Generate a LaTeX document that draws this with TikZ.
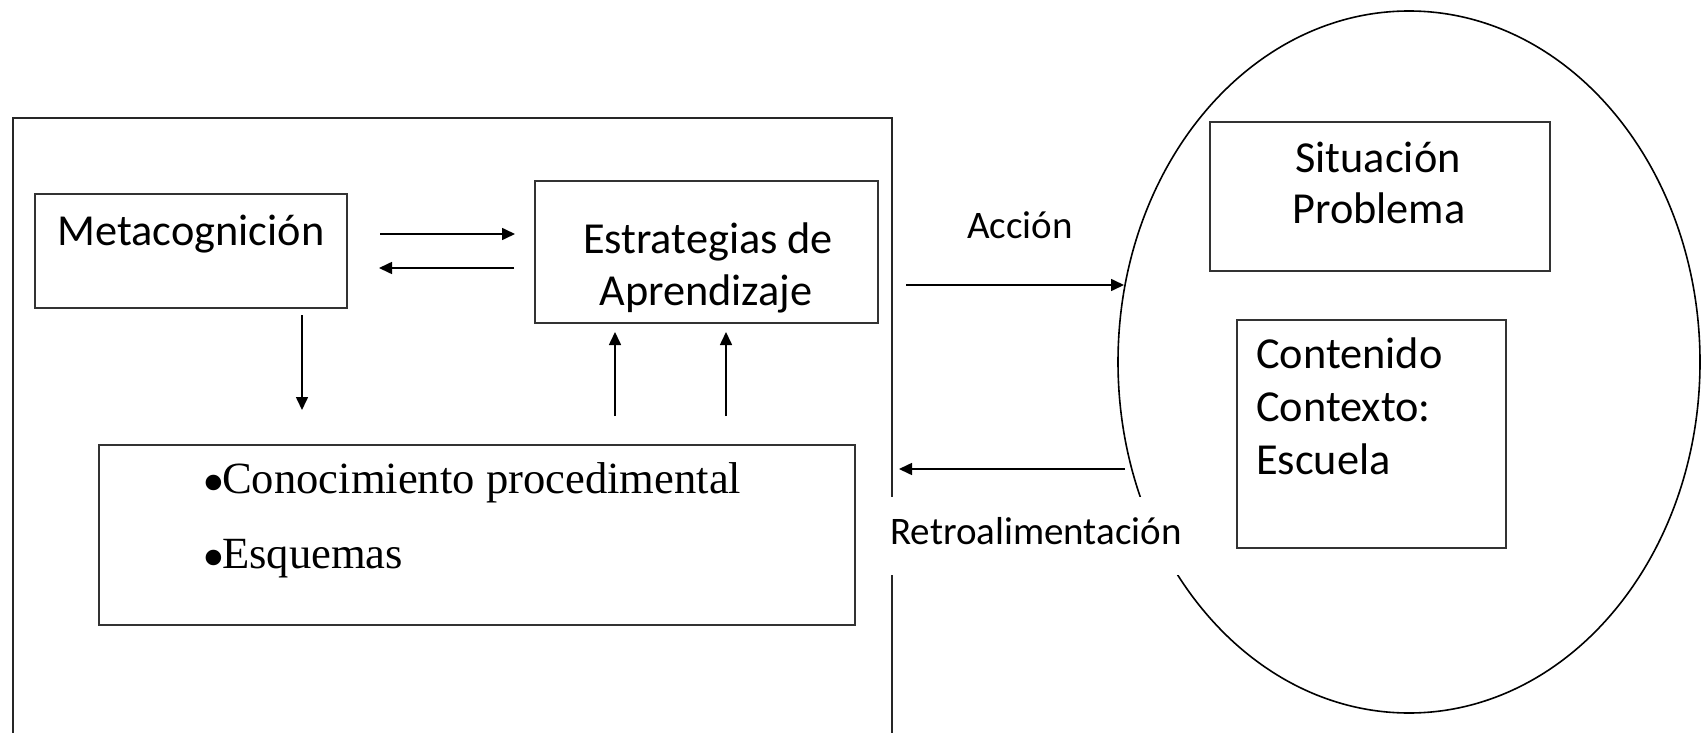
\documentclass[tikz,border=0pt]{standalone}
\usepackage{fontspec}
\setmainfont{Liberation Serif}
\newcommand{\bigbul}{\makebox[20pt][l]{\raisebox{-11pt}{\fontsize{65}{65}\selectfont •}}}
\newfontfamily\carl{Carlito}
\usetikzlibrary{arrows.meta,shapes.geometric}
\tikzset{
  boxnode/.style={draw=black!80, line width=1.6pt, rectangle, inner sep=0pt, anchor=north west},
  frame/.style={draw=black!85, line width=1.6pt},
  arr/.style={draw=black, line width=1.6pt, -{Triangle[length=13pt,width=12pt]}},
  sanslbl/.style={font=\carl\fontsize{44.3}{52}\selectfont, inner sep=0pt, anchor=base},
  edgelbl/.style={font=\carl\fontsize{39}{48}\selectfont, inner sep=0pt, anchor=base},
  seriflbl/.style={font=\fontsize{44.6}{75}\selectfont, inner sep=0pt, anchor=base west},
}
\begin{document}
\begin{tikzpicture}[x=1pt,y=-1pt]
\useasboundingbox (0,0) rectangle (1702,733);
% outer frame (open at the bottom)
\draw[frame] (13,733) -- (13,118) -- (892,118) -- (892,733);
% environment ellipse
\node[draw=black, line width=1.6pt, ellipse, inner sep=0pt, minimum width=582pt, minimum height=702pt] (env) at (1409,362) {};
% white patch behind the feedback label
\node[fill=white, inner sep=0pt, minimum width=296pt, minimum height=78pt] (retrobg) at (1034,536) {};
% boxes
\node[boxnode, minimum width=312pt, minimum height=114pt] (meta) at (34,193) {};
\node[boxnode, minimum width=343pt, minimum height=142pt] (estr) at (534,180) {};
\node[boxnode, minimum width=756pt, minimum height=180pt] (conoc) at (98,444) {};
\node[boxnode, minimum width=340pt, minimum height=149pt] (sit) at (1209,121) {};
\node[boxnode, minimum width=269pt, minimum height=228pt] (cont) at (1236,319) {};
% texts
\node[sanslbl] (tmeta) at (191,245) {Metacognición};
\node[sanslbl] (testr1) at (708,253) {Estrategias de};
\node[sanslbl] (testr2) at (706,305) {Aprendizaje};
\node[sanslbl] (tsit1) at (1378,172) {Situación};
\node[sanslbl] (tsit2) at (1379,223) {Problema};
\node[sanslbl, anchor=base west] (tcont1) at (1256,368) {Contenido};
\node[sanslbl, anchor=base west] (tcont2) at (1256,421) {Contexto:};
\node[sanslbl, anchor=base west] (tcont3) at (1256,474) {Escuela};
\node[edgelbl] (taccion) at (1020,238) {Acción};
\node[edgelbl] (tretro) at (1036,544) {Retroalimentación};
\node[seriflbl] (tconoc1) at (202,493) {\bigbul Conocimiento procedimental};
\node[seriflbl] (tconoc2) at (202,568) {\bigbul Esquemas};
% arrow end points
\coordinate (m2e-s) at (380,234);
\coordinate (m2e-e) at (515,234);
\coordinate (e2m-s) at (514,268);
\coordinate (e2m-e) at (379,268);
\coordinate (m2c-s) at (302,315);
\coordinate (m2c-e) at (302,410);
\coordinate (c2e1-s) at (615,416);
\coordinate (c2e1-e) at (615,332);
\coordinate (c2e2-s) at (726,416);
\coordinate (c2e2-e) at (726,332);
\coordinate (acc-s) at (906,285);
\coordinate (acc-e) at (1124,285);
\coordinate (ret-s) at (1125,469);
\coordinate (ret-e) at (899,469);
% connectors
\draw[arr] (m2e-s) -- (m2e-e);
\draw[arr] (e2m-s) -- (e2m-e);
\draw[arr] (m2c-s) -- (m2c-e);
\draw[arr] (c2e1-s) -- (c2e1-e);
\draw[arr] (c2e2-s) -- (c2e2-e);
\draw[arr] (acc-s) -- (acc-e);
\draw[arr] (ret-s) -- (ret-e);
\end{tikzpicture}
\end{document}
